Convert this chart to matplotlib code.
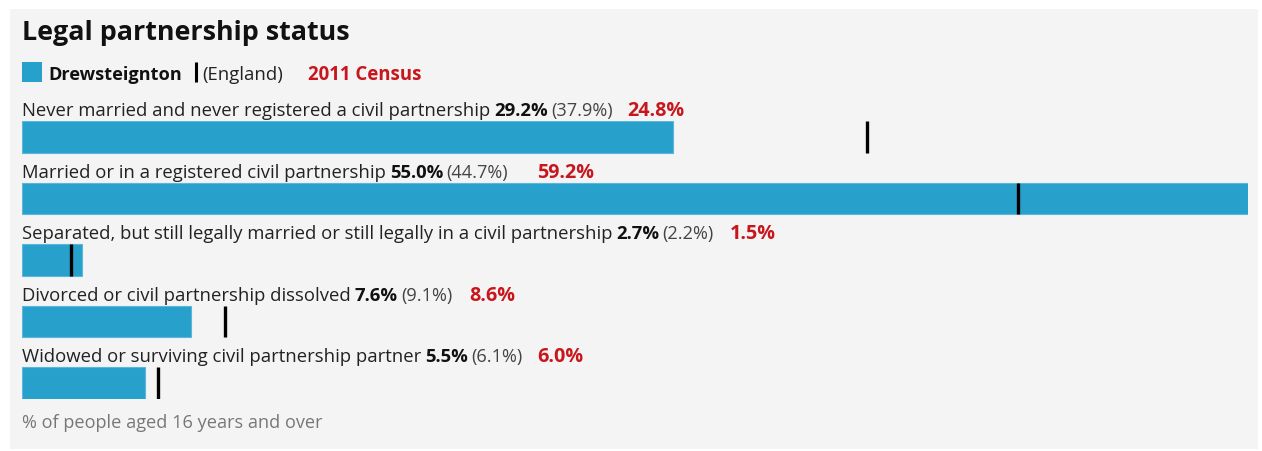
import numpy as np
import matplotlib.pyplot as plt
from matplotlib.patches import Rectangle

plt.rcParams['font.family'] = ['Open Sans', 'DejaVu Sans']

# Dữ liệu
categories = [
    'Never married and never registered a civil partnership',
    'Married or in a registered civil partnership',
    'Separated, but still legally married or still legally in a civil partnership',
    'Divorced or civil partnership dissolved',
    'Widowed or surviving civil partnership partner',
]
local_pct = [29.2, 55.0, 2.7, 7.6, 5.5]
england_pct = [37.9, 44.7, 2.2, 9.1, 6.1]
census2011_pct = [24.8, 59.2, 1.5, 8.6, 6.0]

W, H = 1262, 452
BLUE = '#27a0cc'
RED = '#c8161d'

fig = plt.figure(figsize=(W / 100, H / 100), dpi=100)
fig.patch.set_facecolor('white')

# lớp nền theo pixel
ax0 = fig.add_axes([0, 0, 1, 1])
ax0.set_xlim(0, W)
ax0.set_ylim(H, 0)
ax0.axis('off')
ax0.add_patch(Rectangle((10, 10), 1248, 440, facecolor='#f4f4f4', edgecolor='none'))

ax0.text(22, 40, 'Legal partnership status', fontsize=19.4, fontweight='bold',
         color='#111111', ha='left', va='baseline')

# chú thích
ax0.add_patch(Rectangle((22, 63), 20, 20, facecolor=BLUE, edgecolor='none'))
ax0.text(48, 80, 'Drewsteignton', fontsize=13.1, fontweight='bold',
         color='#111111', ha='left', va='baseline')
ax0.plot([196, 196], [63, 83], color='black', lw=2.2, solid_capstyle='butt')
ax0.text(202, 80, '(England)', fontsize=13.3, color='#222222',
         ha='left', va='baseline')
ax0.text(308, 80, '2011 Census', fontsize=13.4, fontweight='bold', color=RED,
         ha='left', va='baseline')

ax0.text(22, 428, '% of people aged 16 years and over', fontsize=13.1,
         color='#777777', ha='left', va='baseline')

# các thanh
top, bottom = 122, 400
ax = fig.add_axes([22 / W, 1 - bottom / H, (1248 - 22) / W, (bottom - top) / H])
ax.patch.set_alpha(0)
y = np.arange(len(categories))
hh = 0.26
ax.barh(y, local_pct, height=2 * hh, color=BLUE, edgecolor='#5ab6da', linewidth=0.8)
ax.vlines(england_pct, y - hh, y + hh, color='black', lw=2.4)
ax.set_xlim(0, max(local_pct))
ax.set_ylim(len(categories) - 1 + hh, -hh)
ax.axis('off')

red_gap = [15, 29, 16, 17, 15]
for i, lab in enumerate(categories):
    yb = i - 0.357
    t1 = ax.text(0, yb, lab, fontsize=13.3, color='#222222', ha='left', va='baseline')
    t2 = ax.annotate(f'{local_pct[i]:.1f}%', xy=(1, yb), xycoords=(t1, ax.transData),
                     xytext=(4, 0), textcoords='offset pixels', fontsize=13.3,
                     fontweight='bold', color='#111111', ha='left', va='baseline')
    t3 = ax.annotate(f'({england_pct[i]:.1f}%)', xy=(1, yb), xycoords=(t2, ax.transData),
                     xytext=(3, 0), textcoords='offset pixels', fontsize=13.1,
                     color='#444444', ha='left', va='baseline')
    ax.annotate(f'{census2011_pct[i]:.1f}%', xy=(1, yb), xycoords=(t3, ax.transData),
                xytext=(red_gap[i], 0), textcoords='offset pixels', fontsize=14.2,
                fontweight='bold', color=RED, ha='left', va='baseline')

fig.savefig('out.png', dpi=100)
